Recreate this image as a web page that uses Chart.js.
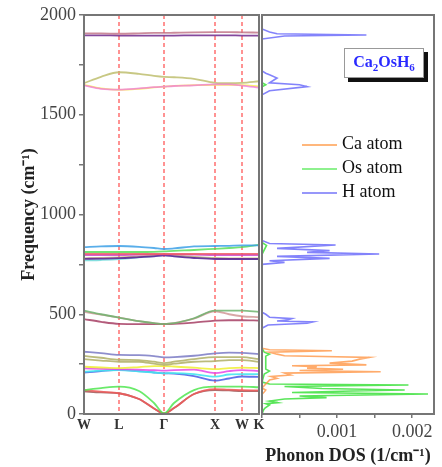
<!DOCTYPE html>
<html>
<head>
<meta charset="utf-8">
<script src="https://cdn.jsdelivr.net/npm/chart.js@4.4.1/dist/chart.umd.min.js"></script>
<style>
  body { margin: 0; background: #fff; width: 442px; height: 467px; position: relative; overflow: hidden; font-family: "Liberation Serif", "Times New Roman", serif; }
  canvas { position: absolute; top: 0; }
  #bands { left: 0; }
  #dos { left: 259px; }
  .formula { position: absolute; left: 344px; top: 48px; width: 80px; height: 30px; box-sizing: border-box; border: 1.5px solid #999; background: #fff; box-shadow: 4px 4px 0 #111; color: #2a2aff; font-weight: bold; font-size: 16px; text-align: center; line-height: 26px; z-index: 2; }
  .formula sub { font-size: 11px; }
  .leg { position: absolute; left: 302px; z-index: 2; font-size: 18px; color: #111; height: 20px; line-height: 20px; }
  .leg i { display: inline-block; width: 35px; height: 2.5px; vertical-align: middle; margin-right: 5px; }
</style>
</head>
<body>
<canvas id="bands" width="280" height="467" style="width:280px;height:467px"></canvas>
<canvas id="dos" width="183" height="467" style="width:183px;height:467px"></canvas>
<div class="formula">Ca<sub>2</sub>OsH<sub>6</sub></div>
<div class="leg" style="top:133px"><i style="background:rgba(255,175,110,0.9)"></i>Ca atom</div>
<div class="leg" style="top:157px"><i style="background:rgba(130,240,130,0.9)"></i>Os atom</div>
<div class="leg" style="top:181px"><i style="background:rgba(140,140,250,0.9)"></i>H atom</div>
<script>
// path coordinate of every sampled k-point
const kPos = [0, 17, 35, 55, 70, 80, 90, 110, 131, 145, 158, 175];
const kLabelPos = [0, 35, 80, 131, 158, 175];
const kLabels = ['W', 'L', 'Γ', 'X', 'W', 'K'];

// phonon branches (cm-1), one value per kPos
const hStretch1 = [1908, 1908, 1906, 1908, 1910, 1910, 1911, 1913, 1914, 1914, 1913, 1912];
const hStretch2 = [1898, 1898, 1897, 1897, 1897, 1897, 1897, 1898, 1898, 1898, 1897, 1897];
const hStretch3 = [1647, 1630, 1626, 1632, 1638, 1641, 1644, 1647, 1652, 1652, 1646, 1636];
const hStretch4 = [1658, 1690, 1713, 1705, 1695, 1690, 1688, 1680, 1660, 1658, 1660, 1668];
const hStretch5 = [1650, 1632, 1625, 1630, 1637, 1641, 1645, 1648, 1650, 1650, 1648, 1642];
const hBend1 = [836, 840, 842, 838, 832, 827, 830, 840, 842, 843, 845, 845];
const hBend2 = [812, 812, 812, 812, 813, 815, 818, 822, 828, 832, 836, 848];
const hBend3 = [803, 803, 803, 802, 802, 802, 802, 802, 803, 803, 803, 803];
const hBend4 = [797, 797, 797, 799, 800, 800, 800, 799, 797, 797, 797, 797];
const hBend5 = [778, 779, 781, 786, 790, 795, 790, 782, 777, 777, 777, 777];
const hBend6 = [780, 782, 785, 790, 795, 800, 795, 788, 782, 780, 780, 780];
const hBend7 = [770, 772, 776, 785, 792, 797, 792, 785, 780, 778, 776, 776];
const hLib1 = [518, 500, 483, 465, 455, 451, 455, 480, 518, 518, 518, 512];
const hLib2 = [512, 498, 483, 465, 455, 451, 455, 478, 515, 500, 490, 485];
const hLib3 = [476, 462, 452, 451, 451, 451, 452, 458, 468, 470, 470, 468];
const optic1 = [312, 305, 296, 295, 290, 284, 285, 292, 304, 308, 306, 300];
const optic2 = [291, 282, 272, 270, 262, 255, 262, 275, 285, 285, 285, 275];
const optic3 = [275, 268, 262, 262, 252, 246, 252, 262, 265, 270, 270, 262];
const optic4 = [237, 233, 230, 235, 240, 240, 238, 232, 225, 230, 232, 230];
const optic5 = [229, 226, 224, 222, 220, 217, 220, 222, 205, 215, 220, 215];
const optic6 = [212, 217, 220, 213, 208, 204, 205, 200, 187, 198, 200, 200];
const optic7 = [207, 215, 221, 215, 208, 204, 202, 190, 167, 178, 188, 186];
const acoustic1 = [120, 130, 137, 115, 55, 3, 55, 120, 137, 137, 137, 134];
const acoustic2 = [120, 112, 104, 75, 28, 3, 30, 100, 125, 122, 120, 118];
const acoustic3 = [113, 108, 104, 75, 28, 3, 30, 100, 120, 118, 115, 115];

const branches = [hStretch1, hStretch2, hStretch3, hStretch4, hStretch5,
  hBend1, hBend2, hBend3, hBend4, hBend5, hBend6, hBend7,
  hLib1, hLib2, hLib3, optic1, optic2, optic3, optic4, optic5, optic6, optic7,
  acoustic1, acoustic2, acoustic3];
const branchColors = [
  'rgba(190,110,130,0.8)', 'rgba(110,40,140,0.85)', 'rgba(240,110,230,0.7)', 'rgba(190,190,110,0.85)', 'rgba(250,245,90,0.9)',
  'rgba(60,160,230,0.85)', 'rgba(80,220,80,0.8)', 'rgba(240,90,100,0.85)', 'rgba(200,60,200,0.8)', 'rgba(90,30,150,0.85)', 'rgba(200,170,100,0.7)', 'rgba(80,210,210,0.7)',
  'rgba(110,180,110,0.85)', 'rgba(200,130,130,0.7)', 'rgba(160,50,90,0.8)',
  'rgba(130,130,200,0.9)', 'rgba(180,180,110,0.9)', 'rgba(180,180,110,0.9)', 'rgba(240,240,60,0.9)', 'rgba(230,70,230,0.85)', 'rgba(70,230,240,0.9)', 'rgba(70,90,230,0.85)',
  'rgba(80,230,80,0.85)', 'rgba(240,90,90,0.85)', 'rgba(140,50,50,0.7)'];

// partial phonon DOS: frequency (cm-1) and DOS (1/cm-1)
const dosFreqH = [0, 430, 446, 455, 462, 466, 472, 478, 485, 500, 510, 750, 760, 768, 780, 790, 802, 810, 819, 830, 847, 855, 870, 1600, 1620, 1641, 1650, 1660, 1684, 1700, 1708, 1720, 1880, 1895, 1900, 1906, 1915, 1930, 2000];
const dosH = [0, 0, 0.00008, 0.0006, 0.00068, 0.0002, 0.00035, 0.0004, 0.0001, 0.00005, 0, 0, 0.0003, 0.0001, 0.0009, 0.0002, 0.00156, 0.0006, 0.0009, 0.0002, 0.00098, 0.0001, 0, 0, 0.0001, 0.0006, 0.0005, 0.0001, 0.0002, 0.0001, 0.00005, 0, 0, 0.0003, 0.00139, 0.0002, 0.0001, 0, 0];
const dosFreqCa = [0, 100, 110, 120, 130, 170, 179, 188, 195, 205, 212, 218, 224, 230, 237, 242, 246, 255, 265, 275, 284, 292, 300, 310, 317, 322, 330, 2000];
const dosCa = [0, 0, 0.00003, 0.00005, 0, 0.0001, 0.0002, 0.00012, 0.00038, 0.0003, 0.00158, 0.0005, 0.00108, 0.0006, 0.00073, 0.0004, 0.00139, 0.0009, 0.0012, 0.0013, 0.00143, 0.0003, 0.0002, 0.0001, 0.00093, 0.0001, 0, 0];
const dosFreqOs = [0, 20, 30, 45, 52, 57, 65, 75, 82, 90, 100, 108, 115, 120, 128, 138, 145, 150, 160, 200, 215, 225, 290, 300, 310, 330, 800, 845, 860, 1640, 1650, 1660, 2000];
const dosOs = [0, 0.00002, 0.00004, 0.0001, 0.00005, 0.00021, 0.0001, 0.0003, 0.00086, 0.0005, 0.00221, 0.0004, 0.0012, 0.0019, 0.0008, 0.0003, 0.00195, 0.0001, 0, 0.00003, 0.0001, 0.00005, 0.00005, 0.0001, 0.00003, 0, 0, 0.00006, 0, 0, 0.00005, 0, 0];
const dosTickLabels = { 0.001: '0.001', 0.002: '0.002' };

const serif = '"Liberation Serif", "Times New Roman", serif';
const frameColor = '#767676';

const framePlugin = {
  id: 'frame',
  afterDraw(chart) {
    const { ctx, chartArea: a } = chart;
    ctx.save();
    ctx.strokeStyle = frameColor;
    ctx.lineWidth = 2;
    ctx.strokeRect(a.left, a.top, a.right - a.left, a.bottom - a.top);
    ctx.restore();
  }
};

const pts = (xs, ys) => xs.map((x, i) => ({ x, y: ys[i] }));

new Chart(document.getElementById('bands'), {
  type: 'line',
  data: {
    datasets: branches.map((b, i) => ({
      data: pts(kPos, b),
      borderColor: branchColors[i],
      borderWidth: 1.8,
      pointRadius: 0,
      cubicInterpolationMode: 'monotone',
    })),
  },
  options: {
    responsive: false,
    animation: false,
    layout: { padding: { left: 0, top: 15, right: 21, bottom: 0 } },
    plugins: { legend: { display: false }, tooltip: { enabled: false } },
    scales: {
      x: {
        type: 'linear',
        min: 0,
        max: 175,
        afterBuildTicks: (s) => { s.ticks = kLabelPos.map(v => ({ value: v })); },
        afterFit: (s) => { s.height = 53; },
        ticks: {
          autoSkip: false,
          maxRotation: 0,
          padding: 3,
          color: '#333',
          font: { family: serif, size: 14, weight: 'bold' },
          callback: (v, i) => kLabels[i],
        },
        grid: {
          drawTicks: false,
          lineWidth: 2,
          color: (c) => (c.index === 0 || c.index === kLabelPos.length - 1) ? 'rgba(0,0,0,0)' : 'rgba(255,110,110,0.75)',
        },
        border: { color: frameColor, width: 2, dash: [4, 3] },
      },
      y: {
        min: 0,
        max: 2000,
        afterBuildTicks: (s) => { s.ticks = [0, 250, 500, 750, 1000, 1250, 1500, 1750, 2000].map(v => ({ value: v })); },
        afterFit: (s) => { s.width = 84; },
        ticks: {
          padding: 3,
          color: '#444',
          font: { family: serif, size: 18 },
          callback: (v) => (v % 500 === 0 ? v : ''),
        },
        grid: { drawOnChartArea: false, tickLength: 5, color: frameColor, lineWidth: 1.5 },
        border: { color: frameColor, width: 2 },
        title: {
          display: true,
          text: 'Frequency (cm⁻¹)',
          color: '#222',
          font: { family: serif, size: 18, weight: 'bold' },
          padding: { top: 19, bottom: 0 },
        },
      },
    },
  },
  plugins: [framePlugin],
});

const dosSet = (xs, ys, color) => ({
  data: pts(ys, xs),
  borderColor: color,
  borderWidth: 1.6,
  pointRadius: 0,
  showLine: true,
  tension: 0,
});

new Chart(document.getElementById('dos'), {
  type: 'scatter',
  data: {
    datasets: [
      dosSet(dosFreqH, dosH, 'rgba(100,100,250,0.8)'),
      dosSet(dosFreqCa, dosCa, 'rgba(255,150,70,0.8)'),
      dosSet(dosFreqOs, dosOs, 'rgba(60,225,60,0.85)'),
    ],
  },
  options: {
    responsive: false,
    animation: false,
    layout: { padding: { left: 0, top: 15, right: 8, bottom: 0 } },
    plugins: { legend: { display: false }, tooltip: { enabled: false } },
    scales: {
      x: {
        type: 'linear',
        min: 0,
        max: 0.00229,
        afterBuildTicks: (s) => { s.ticks = [0, 0.0005, 0.001, 0.0015, 0.002].map(v => ({ value: v })); },
        afterFit: (s) => { s.height = 53; },
        ticks: {
          autoSkip: false,
          maxRotation: 0,
          padding: 3,
          color: '#444',
          font: { family: serif, size: 18 },
          callback: (v) => dosTickLabels[v] || '',
        },
        grid: { drawOnChartArea: false, tickLength: 4, color: frameColor, lineWidth: 1.5 },
        border: { color: frameColor, width: 2 },
        title: {
          display: true,
          text: 'Phonon DOS (1/cm⁻¹)',
          color: '#222',
          font: { family: serif, size: 18, weight: 'bold' },
          padding: { top: 0, bottom: 0 },
        },
      },
      y: { display: false, min: 0, max: 2000 },
    },
  },
  plugins: [framePlugin],
});
</script>
</body>
</html>
